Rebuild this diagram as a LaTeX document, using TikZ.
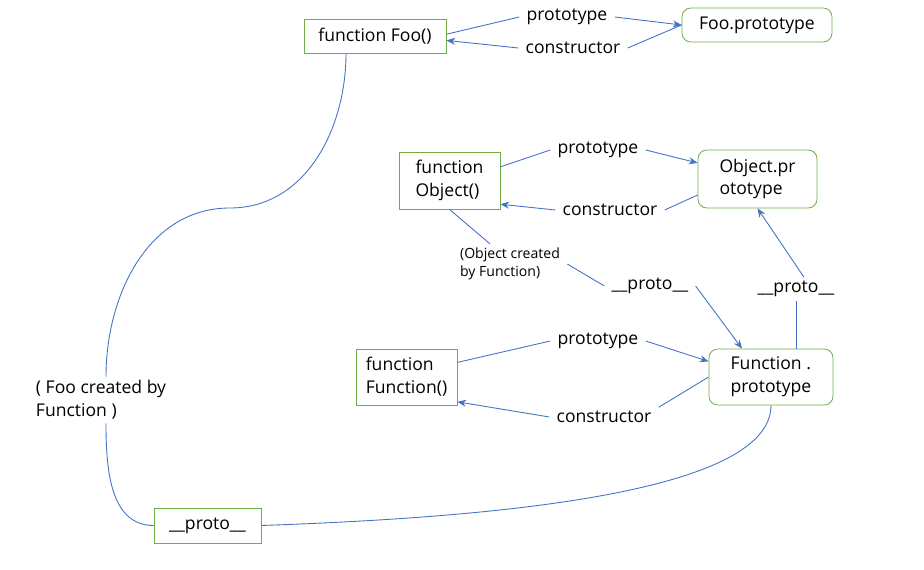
\documentclass[tikz,border=0pt]{standalone}
\usepackage{fontspec}
\setmainfont{Open Sans}
\usetikzlibrary{arrows.meta, positioning, calc}
\definecolor{lineblue}{RGB}{68, 114, 196}
\definecolor{boxgreen}{RGB}{112, 173, 71}
\tikzset{
  plainbox/.style={draw=boxgreen, line width=0.45pt, align=left, inner sep=2pt},
  roundbox/.style={plainbox, rounded corners=5pt},
  lbl/.style={inner xsep=4pt, inner ysep=2pt},
  link/.style={draw=lineblue, line width=0.5pt},
  arr/.style={link, -{Stealth[length=5pt, width=4pt]}},
}

\begin{document}
\begin{tikzpicture}[x=0.02cm, y=-0.02cm, font=\fontsize{10}{13}\selectfont]
  \useasboundingbox (0,0) rectangle (924,570);

  % --- Foo and Foo.prototype ---
  \node[plainbox, minimum width=2.84cm, minimum height=0.68cm] (foo) at (375,36) {function Foo()};
  \node[roundbox, minimum width=3cm, minimum height=0.68cm] (fooproto) at (757,25) {Foo.prototype};
  \node[lbl] (p1) at (567,17) {prototype};
  \node[lbl] (c1) at (573,48) {constructor};
  \draw[link] ([yshift=1pt]foo.east) -- (p1.west);
  \draw[arr] (p1.east) -- (fooproto.west);
  \draw[link] (fooproto.west) -- (c1.east);
  \draw[arr] (c1.west) -- ([yshift=-2.5pt]foo.east);

  % --- Object and Object.prototype ---
  \node[plainbox, minimum width=2.02cm, minimum height=1.14cm] (obj) at (449.5,180.5) {function\\Object()};
  \node[roundbox, minimum width=2.38cm, minimum height=1.16cm] (objproto) at (757.5,179) {Object.pr\\ototype};
  \node[lbl] (p2) at (598,150) {prototype};
  \node[lbl] (c2) at (610,210) {constructor};
  \node[lbl, align=left, font=\fontsize{8}{10.5}\selectfont] (objby) at (510,264) {(Object created\\by Function)};
  \node[lbl] (pr1) at (650,286) {\_\_proto\_\_};
  \node[lbl] (pr2) at (796,289) {\_\_proto\_\_};
  \draw[link] (obj.15) -- (p2.west);
  \draw[arr] (p2.east) -- (objproto.165);
  \draw[link] (objproto.195) -- (c2.east);
  \draw[arr] (c2.west) -- (obj.-25);
  \draw[link] (obj.south) -- ([xshift=-0.4cm]objby.north);
  \draw[link] (objby.east) -- (pr1.west);

  % --- Function and Function.prototype ---
  \node[plainbox, minimum width=2.02cm, minimum height=1.12cm] (func) at (406.5,377) {function\\Function()};
  \node[roundbox, minimum width=2.48cm, minimum height=1.12cm] (funcproto) at (771,377) {Function .\\prototype};
  \node[lbl] (p3) at (598,341) {prototype};
  \node[lbl] (c3) at (604,417) {constructor};
  \draw[link] (func.16) -- (p3.west);
  \draw[arr] (p3.east) -- (funcproto.166);
  \draw[link] (funcproto.west) -- (c3.north east);
  \draw[arr] (c3.west) -- (func.-26);
  \draw[arr] (pr1.east) -- ([xshift=-0.58cm]funcproto.north);
  \draw[link] (funcproto.north -| pr2.south) -- (pr2.south);
  \draw[arr] ([xshift=0.16cm]pr2.north) -- (objproto.south);

  % --- Foo created by Function ---
  \node[lbl, align=left] (fooby) at (101,400) {( Foo created by\\Function )};
  \node[plainbox, minimum width=2.14cm, minimum height=0.7cm] (fooproto2) at (207.5,525.5) {\_\_proto\_\_};
  \coordinate (bend) at (230,208);
  \draw[link] ([xshift=-0.58cm]foo.south) to[out=-90, in=0] (bend) to[out=180, in=90] ([xshift=0.1cm]fooby.north);
  \draw[link] ([xshift=0.1cm]fooby.south) to[out=-90, in=180] (fooproto2.west);
  \draw[link] (fooproto2.east) to[out=2, in=-90, in looseness=0.45] (funcproto.south);
\end{tikzpicture}
\end{document}
